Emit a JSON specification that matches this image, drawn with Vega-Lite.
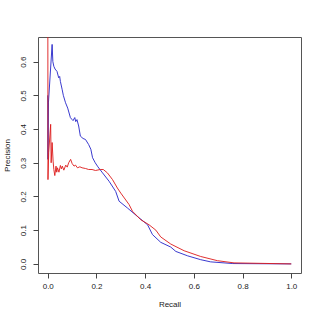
{
  "$schema": "https://vega.github.io/schema/vega-lite/v6.json",
  "autosize": "none",
  "width": 263,
  "height": 236,
  "padding": {"left": 38, "top": 37, "right": 19, "bottom": 47},
  "background": "white",
  "config": {
    "view": {"stroke": "#555555", "strokeWidth": 1},
    "axis": {
      "domain": false,
      "grid": false,
      "tickColor": "#444444",
      "tickSize": 5,
      "labelFont": "Liberation Sans",
      "labelFontSize": 8,
      "labelColor": "#222222",
      "titleFont": "Liberation Sans",
      "titleFontSize": 8,
      "titleFontWeight": "normal",
      "titleColor": "#222222"
    }
  },
  "data": {
    "values": [
      {"s": "b", "i": 1, "recall": 0.000, "precision": 0.50},
      {"s": "b", "i": 2, "recall": 0.001, "precision": 0.31},
      {"s": "b", "i": 3, "recall": 0.003, "precision": 0.48},
      {"s": "b", "i": 4, "recall": 0.018, "precision": 0.651},
      {"s": "b", "i": 5, "recall": 0.021, "precision": 0.60},
      {"s": "b", "i": 6, "recall": 0.025, "precision": 0.586},
      {"s": "b", "i": 7, "recall": 0.030, "precision": 0.578},
      {"s": "b", "i": 8, "recall": 0.038, "precision": 0.571},
      {"s": "b", "i": 9, "recall": 0.045, "precision": 0.552},
      {"s": "b", "i": 10, "recall": 0.049, "precision": 0.556},
      {"s": "b", "i": 11, "recall": 0.052, "precision": 0.541},
      {"s": "b", "i": 12, "recall": 0.059, "precision": 0.518},
      {"s": "b", "i": 13, "recall": 0.064, "precision": 0.50},
      {"s": "b", "i": 14, "recall": 0.073, "precision": 0.478},
      {"s": "b", "i": 15, "recall": 0.082, "precision": 0.462},
      {"s": "b", "i": 16, "recall": 0.093, "precision": 0.434},
      {"s": "b", "i": 17, "recall": 0.100, "precision": 0.428},
      {"s": "b", "i": 18, "recall": 0.104, "precision": 0.425},
      {"s": "b", "i": 19, "recall": 0.111, "precision": 0.434},
      {"s": "b", "i": 20, "recall": 0.115, "precision": 0.422},
      {"s": "b", "i": 21, "recall": 0.120, "precision": 0.428},
      {"s": "b", "i": 22, "recall": 0.127, "precision": 0.409},
      {"s": "b", "i": 23, "recall": 0.134, "precision": 0.379},
      {"s": "b", "i": 24, "recall": 0.145, "precision": 0.372},
      {"s": "b", "i": 25, "recall": 0.155, "precision": 0.369},
      {"s": "b", "i": 26, "recall": 0.168, "precision": 0.354},
      {"s": "b", "i": 27, "recall": 0.177, "precision": 0.34},
      {"s": "b", "i": 28, "recall": 0.184, "precision": 0.315},
      {"s": "b", "i": 29, "recall": 0.195, "precision": 0.30},
      {"s": "b", "i": 30, "recall": 0.206, "precision": 0.288},
      {"s": "b", "i": 31, "recall": 0.225, "precision": 0.27},
      {"s": "b", "i": 32, "recall": 0.252, "precision": 0.245},
      {"s": "b", "i": 33, "recall": 0.279, "precision": 0.215},
      {"s": "b", "i": 34, "recall": 0.293, "precision": 0.186},
      {"s": "b", "i": 35, "recall": 0.327, "precision": 0.166},
      {"s": "b", "i": 36, "recall": 0.368, "precision": 0.141},
      {"s": "b", "i": 37, "recall": 0.41, "precision": 0.116},
      {"s": "b", "i": 38, "recall": 0.43, "precision": 0.087},
      {"s": "b", "i": 39, "recall": 0.464, "precision": 0.064},
      {"s": "b", "i": 40, "recall": 0.505, "precision": 0.05},
      {"s": "b", "i": 41, "recall": 0.526, "precision": 0.037},
      {"s": "b", "i": 42, "recall": 0.574, "precision": 0.024},
      {"s": "b", "i": 43, "recall": 0.628, "precision": 0.0125},
      {"s": "b", "i": 44, "recall": 0.669, "precision": 0.006},
      {"s": "b", "i": 45, "recall": 0.76, "precision": 0.001},
      {"s": "b", "i": 46, "recall": 1.0, "precision": 0.0},
      {"s": "r", "i": 1, "recall": 0.000, "precision": 1.0},
      {"s": "r", "i": 2, "recall": 0.001, "precision": 0.25},
      {"s": "r", "i": 3, "recall": 0.004, "precision": 0.33},
      {"s": "r", "i": 4, "recall": 0.012, "precision": 0.414},
      {"s": "r", "i": 5, "recall": 0.014, "precision": 0.30},
      {"s": "r", "i": 6, "recall": 0.018, "precision": 0.36},
      {"s": "r", "i": 7, "recall": 0.022, "precision": 0.305},
      {"s": "r", "i": 8, "recall": 0.025, "precision": 0.28},
      {"s": "r", "i": 9, "recall": 0.029, "precision": 0.262},
      {"s": "r", "i": 10, "recall": 0.034, "precision": 0.29},
      {"s": "r", "i": 11, "recall": 0.037, "precision": 0.272},
      {"s": "r", "i": 12, "recall": 0.040, "precision": 0.285},
      {"s": "r", "i": 13, "recall": 0.046, "precision": 0.272},
      {"s": "r", "i": 14, "recall": 0.052, "precision": 0.292},
      {"s": "r", "i": 15, "recall": 0.056, "precision": 0.282},
      {"s": "r", "i": 16, "recall": 0.060, "precision": 0.29},
      {"s": "r", "i": 17, "recall": 0.066, "precision": 0.278},
      {"s": "r", "i": 18, "recall": 0.074, "precision": 0.293},
      {"s": "r", "i": 19, "recall": 0.080, "precision": 0.287},
      {"s": "r", "i": 20, "recall": 0.086, "precision": 0.30},
      {"s": "r", "i": 21, "recall": 0.094, "precision": 0.31},
      {"s": "r", "i": 22, "recall": 0.100, "precision": 0.298},
      {"s": "r", "i": 23, "recall": 0.108, "precision": 0.29},
      {"s": "r", "i": 24, "recall": 0.114, "precision": 0.293},
      {"s": "r", "i": 25, "recall": 0.122, "precision": 0.285},
      {"s": "r", "i": 26, "recall": 0.132, "precision": 0.288},
      {"s": "r", "i": 27, "recall": 0.141, "precision": 0.285},
      {"s": "r", "i": 28, "recall": 0.155, "precision": 0.283},
      {"s": "r", "i": 29, "recall": 0.168, "precision": 0.28},
      {"s": "r", "i": 30, "recall": 0.182, "precision": 0.28},
      {"s": "r", "i": 31, "recall": 0.196, "precision": 0.277},
      {"s": "r", "i": 32, "recall": 0.216, "precision": 0.28},
      {"s": "r", "i": 33, "recall": 0.228, "precision": 0.28},
      {"s": "r", "i": 34, "recall": 0.245, "precision": 0.27},
      {"s": "r", "i": 35, "recall": 0.266, "precision": 0.25},
      {"s": "r", "i": 36, "recall": 0.286, "precision": 0.225},
      {"s": "r", "i": 37, "recall": 0.30, "precision": 0.21},
      {"s": "r", "i": 38, "recall": 0.334, "precision": 0.176},
      {"s": "r", "i": 39, "recall": 0.348, "precision": 0.156},
      {"s": "r", "i": 40, "recall": 0.382, "precision": 0.131},
      {"s": "r", "i": 41, "recall": 0.416, "precision": 0.116},
      {"s": "r", "i": 42, "recall": 0.444, "precision": 0.10},
      {"s": "r", "i": 43, "recall": 0.464, "precision": 0.08},
      {"s": "r", "i": 44, "recall": 0.505, "precision": 0.059},
      {"s": "r", "i": 45, "recall": 0.56, "precision": 0.039},
      {"s": "r", "i": 46, "recall": 0.628, "precision": 0.022},
      {"s": "r", "i": 47, "recall": 0.697, "precision": 0.0095},
      {"s": "r", "i": 48, "recall": 0.765, "precision": 0.003},
      {"s": "r", "i": 49, "recall": 1.0, "precision": 0.0}
    ]
  },
  "mark": {"type": "line", "strokeWidth": 0.9, "clip": true, "interpolate": "linear"},
  "encoding": {
    "x": {
      "field": "recall", "type": "quantitative",
      "scale": {"domain": [-0.04, 1.04], "nice": false, "zero": false},
      "axis": {"title": "Recall", "values": [0, 0.2, 0.4, 0.6, 0.8, 1.0], "format": ".1f", "labelPadding": 4, "titlePadding": 10}
    },
    "y": {
      "field": "precision", "type": "quantitative",
      "scale": {"domain": [-0.027, 0.673], "nice": false, "zero": false},
      "axis": {"title": "Precision", "values": [0, 0.1, 0.2, 0.3, 0.4, 0.5, 0.6], "format": ".1f", "labelAngle": -90, "labelAlign": "center", "labelBaseline": "bottom", "labelPadding": 6, "titlePadding": 8}
    },
    "color": {
      "field": "s", "type": "nominal",
      "scale": {"domain": ["b", "r"], "range": ["#2424c8", "#dd1a1a"]},
      "legend": null
    },
    "order": {"field": "i", "type": "quantitative"}
  }
}
